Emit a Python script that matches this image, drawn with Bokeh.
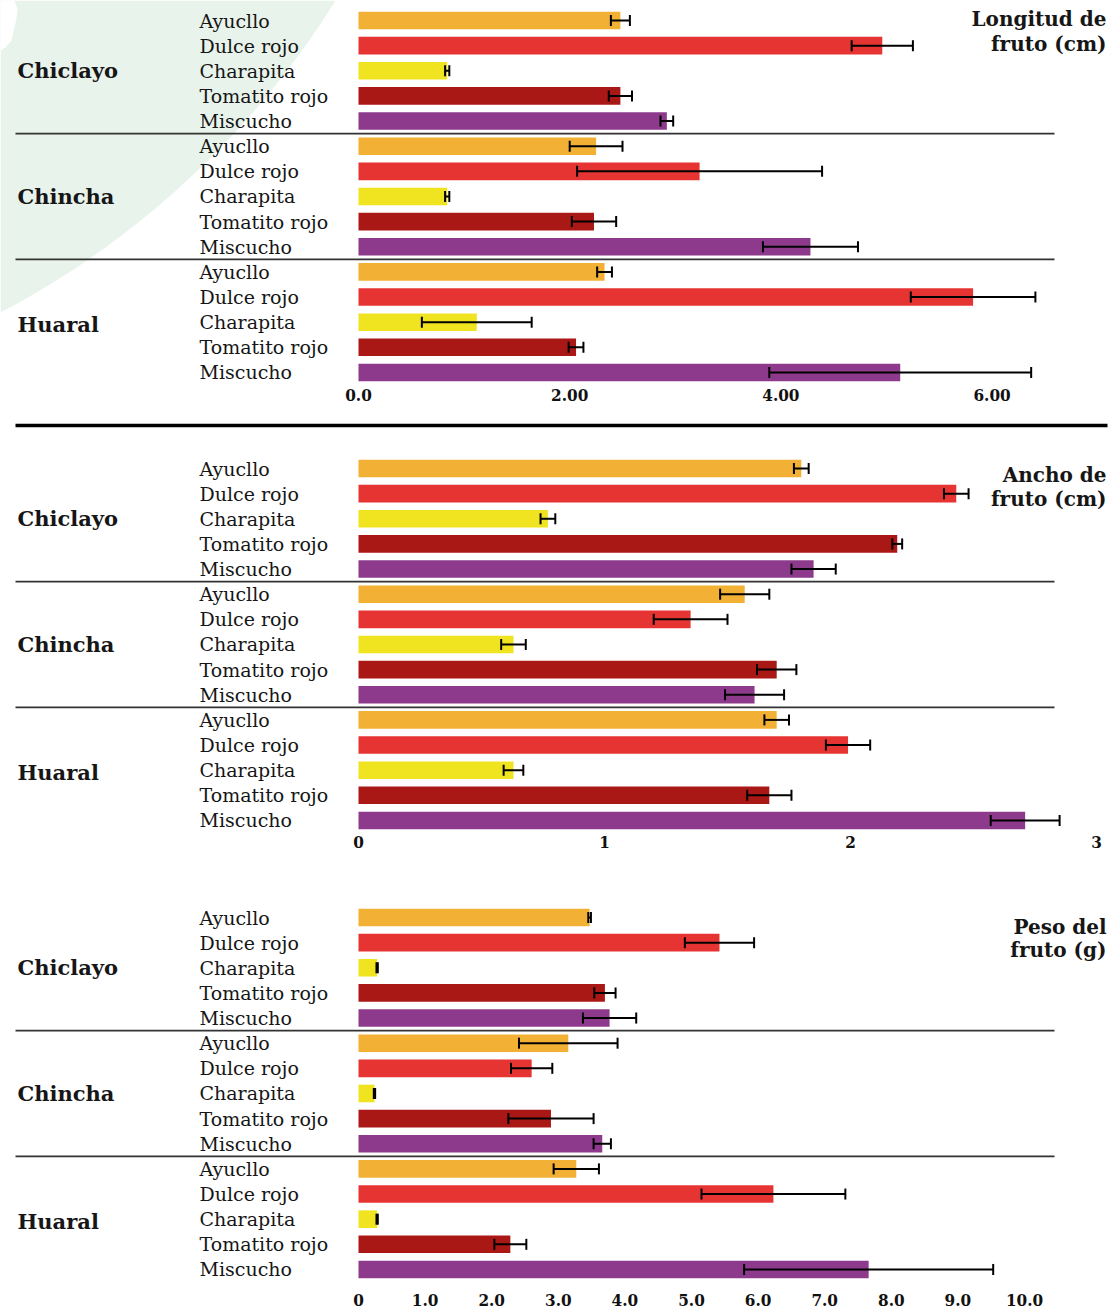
import numpy as np
from bokeh.plotting import figure
from bokeh.layouts import column
from bokeh.models import (Range1d, ColumnDataSource, Whisker, TeeHead,
                          FixedTicker)
from bokeh.core.properties import value
from bokeh.embed import file_html
from bokeh.resources import INLINE

# ---- data -------------------------------------------------------------
sites = ["Chiclayo", "Chincha", "Huaral"]
varieties = ["Ayucllo", "Dulce rojo", "Charapita", "Tomatito rojo", "Miscucho"]
variety_colors = ["#f2b135", "#e63432", "#f0e31f", "#aa1815", "#8e3a8c"]

# fruit length (cm): mean and error, ordered site by site, variety by variety
length_mean = [2.48, 4.96, 0.84, 2.48, 2.92,
               2.25, 3.23, 0.84, 2.23, 4.28,
               2.33, 5.82, 1.12, 2.06, 5.13]
length_err = [0.09, 0.29, 0.02, 0.11, 0.06,
              0.25, 1.16, 0.02, 0.21, 0.45,
              0.07, 0.59, 0.52, 0.07, 1.24]

# fruit width (cm)
width_mean = [1.80, 2.43, 0.77, 2.19, 1.85,
              1.57, 1.35, 0.63, 1.70, 1.61,
              1.70, 1.99, 0.63, 1.67, 2.71]
width_err = [0.03, 0.05, 0.03, 0.02, 0.09,
             0.10, 0.15, 0.05, 0.08, 0.12,
             0.05, 0.09, 0.04, 0.09, 0.14]

# fruit weight (g)
weight_mean = [3.47, 5.42, 0.28, 3.70, 3.77,
               3.15, 2.60, 0.24, 2.89, 3.66,
               3.27, 6.23, 0.28, 2.28, 7.66]
weight_err = [0.02, 0.52, 0.01, 0.16, 0.40,
              0.74, 0.31, 0.01, 0.64, 0.13,
              0.34, 1.08, 0.01, 0.24, 1.87]

length_ticks = [0, 2, 4, 6]
length_tick_labels = ["0.0", "2.00", "4.00", "6.00"]
width_ticks = [0, 1, 2, 3]
width_tick_labels = ["0", "1", "2", "3"]
weight_ticks = [0, 1, 2, 3, 4, 5, 6, 7, 8, 9, 10]
weight_tick_labels = ["0", "1.0", "2.0", "3.0", "4.0", "5.0",
                      "6.0", "7.0", "8.0", "9.0", "10.0"]

titles = [("Longitud de", "fruto (cm)"), ("Ancho de", "fruto (cm)"),
          ("Peso del", "fruto (g)")]

# ---- layout constants ---------------------------------------------------
W = 1112
ZERO_PX = 358          # where the value axis starts
ROW_PX = 25.14         # vertical distance between bars
LABEL_FONT = "DejaVu Serif"
TICK_FONT = "DejaVu Serif Condensed"
INK = "#161616"

n_rows = len(sites) * len(varieties)
rows = list(range(n_rows))
row_variety = [varieties[i % 5] for i in rows]
row_color = [variety_colors[i % 5] for i in rows]


def make_panel(mean, err, ticks, tick_labels, title, px_per_unit, height,
               border_bottom, first_row_px, tick_align="center",
               title_rows=(0.0, 1.0), site_rows=(2, 7, 12.1),
               rule_row=None, backdrop=False, standoff=3):
    frame_h = height - border_bottom

    def xd(px):
        return (px - ZERO_PX) / px_per_unit

    def yd(py):
        return (py - first_row_px) / ROW_PX

    p = figure(width=W, height=height, output_backend="svg",
               toolbar_location=None, y_axis_location=None,
               x_range=Range1d(xd(0), xd(W)),
               y_range=Range1d(yd(frame_h), yd(0)),
               min_border_left=0, min_border_right=0, min_border_top=0,
               min_border_bottom=border_bottom)
    p.outline_line_color = None
    p.xgrid.visible = False
    p.ygrid.visible = False
    p.background_fill_color = "white"
    p.border_fill_color = "white"

    if backdrop:
        # soft green disc in the upper-left corner
        cx, cy, r = -406.7, -460.5, 873.0
        ang = np.linspace(np.arctan2(0 - cy, 335 - cx),
                          np.arctan2(312 - cy, 0 - cx), 80)
        bx = list(cx + r * np.cos(ang)) + [0]
        by = list(cy + r * np.sin(ang)) + [0]
        p.patch([xd(v) for v in bx], [yd(v) for v in by],
                color="#e8f3eb", line_color=None)
        nx = [0, 14, 17, 16, 11, 5, 0]
        ny = [0, 0, 9, 18, 40, 47, 50]
        p.patch([xd(v) for v in nx], [yd(v) for v in ny],
                color="white", line_color=None)

    src = ColumnDataSource(dict(
        y=rows, mean=mean, lo=[m - e for m, e in zip(mean, err)],
        hi=[m + e for m, e in zip(mean, err)], color=row_color,
        variety=row_variety))

    p.hbar(y="y", left=0, right="mean", height=0.70, color="color",
           line_color=None, source=src)

    head = dict(size=11, line_width=2, line_color="black")
    p.add_layout(Whisker(source=src, base="y", lower="lo", upper="hi",
                         dimension="width", line_color="black", line_width=2,
                         level="overlay",
                         lower_head=TeeHead(**head),
                         upper_head=TeeHead(**head)))

    # separators between sites
    p.segment(x0=[xd(15)] * 2, x1=[xd(1054)] * 2, y0=[4.5, 9.5],
              y1=[4.5, 9.5], line_color="#333333", line_width=1.6)

    if rule_row is not None:
        p.segment(x0=[xd(15)], x1=[xd(1107)], y0=[yd(rule_row)],
                  y1=[yd(rule_row)], line_color="black", line_width=3.5)

    # variety names
    p.text(x=xd(199), y="y", text="variety", source=src,
           text_font=value(LABEL_FONT), text_font_size="19px",
           text_color=INK, text_baseline="middle", text_align="left")

    # site names
    p.text(x=[xd(17)] * 3, y=list(site_rows), text=sites,
           text_font=value(LABEL_FONT), text_font_size="21px",
           text_font_style="bold", text_color=INK,
           text_baseline="middle", text_align="left")

    # panel title
    p.text(x=[xd(1106)] * 2, y=list(title_rows), text=list(title),
           text_font=value(LABEL_FONT), text_font_size="20px",
           text_font_style="bold", text_color=INK,
           text_baseline="middle", text_align="right")

    ax = p.xaxis[0]
    ax.ticker = FixedTicker(ticks=ticks)
    ax.major_label_overrides = {t: l for t, l in zip(ticks, tick_labels)}
    ax.axis_line_color = None
    ax.major_tick_line_color = None
    ax.minor_tick_line_color = None
    ax.major_tick_out = 0
    ax.major_tick_in = 0
    ax.major_label_standoff = standoff
    ax.major_label_text_font = TICK_FONT
    ax.major_label_text_font_style = "bold"
    ax.major_label_text_font_size = "17px"
    ax.major_label_text_color = "#111111"
    ax.major_label_text_align = tick_align
    return p


p1 = make_panel(length_mean, length_err, length_ticks, length_tick_labels,
                titles[0], 105.6, 420, 35, 20, title_rows=(-0.04, 0.92),
                backdrop=True)
p2 = make_panel(width_mean, width_err, width_ticks, width_tick_labels,
                titles[1], 246.0, 460, 48, 48, tick_align="left",
                title_rows=(0.24, 1.23), rule_row=5)
p3 = make_panel(weight_mean, weight_err, weight_ticks, weight_tick_labels,
                titles[2], 66.6, 433, 25, 37, title_rows=(0.36, 1.31),
                standoff=5)

layout = column(p1, p2, p3, spacing=0)

open("out.html", "w").write(file_html(layout, INLINE))
